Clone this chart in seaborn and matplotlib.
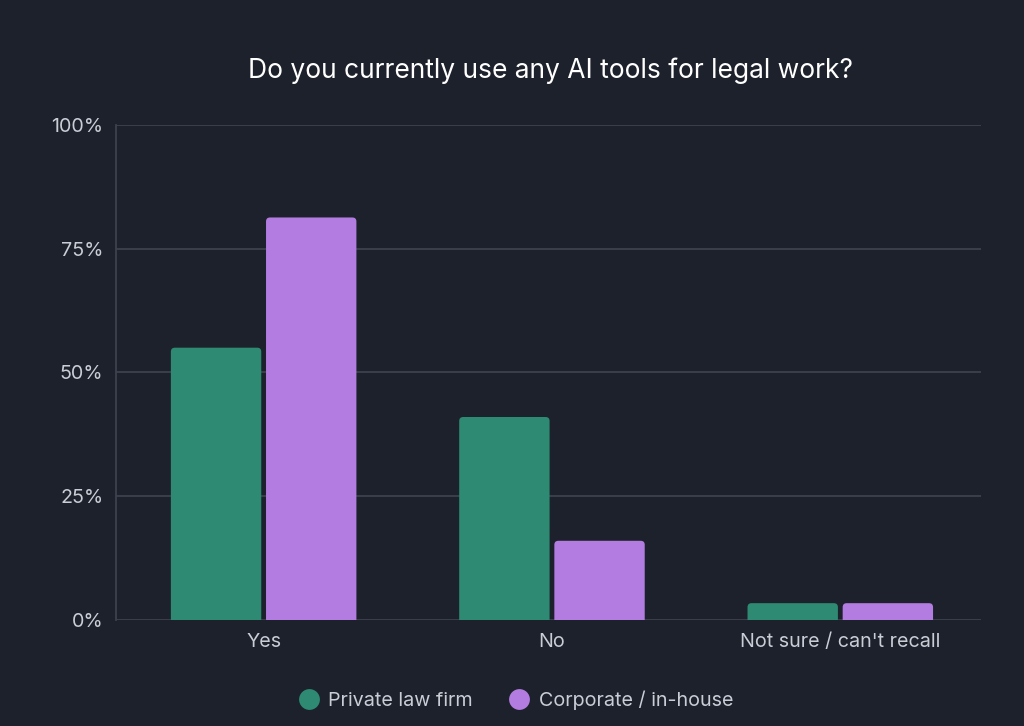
import pandas as pd
import matplotlib.pyplot as plt
import seaborn as sns
from matplotlib.lines import Line2D
from matplotlib.patches import FancyBboxPatch

# survey data (share of respondents)
answers = ['Yes', 'No', "Not sure / can't recall"]
private_firm = [55, 41, 3.4]
corporate = [81.3, 16, 3.4]
series_names = ['Private law firm', 'Corporate / in-house']
y_ticks = [0, 25, 50, 75, 100]

BG = '#1d212b'
GRID = '#3e424e'
TEXT = '#c9cdd5'
colors = ['#2e8a72', '#b27ce0']


def round_bars(ax, radius_px=4):
    # swap the plain rectangles for ones with rounded corners
    fig = ax.figure
    fig.canvas.draw()
    bbox = ax.get_window_extent()
    x0, x1 = ax.get_xlim()
    y0, y1 = ax.get_ylim()
    px_x = bbox.width / (x1 - x0)
    px_y = bbox.height / (y1 - y0)
    r_x = radius_px / px_x
    aspect = px_x / px_y
    for p in list(ax.patches):
        x, w, h = p.get_x(), p.get_width(), p.get_height()
        pad_y = radius_px / px_y
        fb = FancyBboxPatch((x, -pad_y), w, h + pad_y,
                            boxstyle=f'round,pad=0,rounding_size={r_x}',
                            mutation_aspect=aspect,
                            facecolor=p.get_facecolor(), linewidth=0,
                            zorder=p.get_zorder())
        p.remove()
        ax.add_patch(fb)


def main():
    df = pd.DataFrame({
        'answer': answers * 2,
        'share': private_firm + corporate,
        'group': [series_names[0]] * 3 + [series_names[1]] * 3,
    })

    sns.set_style(style='dark', rc={'axes.facecolor': BG, 'figure.facecolor': BG})
    plt.rcParams['font.family'] = ['Inter', 'DejaVu Sans']

    fig = plt.figure(figsize=(10.24, 7.26), dpi=100)
    ax = fig.add_axes([0.1133, 0.146, 0.8447, 0.682])

    sns.barplot(x='answer', y='share', hue='group', data=df, ax=ax,
                palette=colors, width=0.66, gap=0.05, legend=False,
                saturation=1, linewidth=0)

    ax.set_xlim(-0.512, 2.488)
    ax.set_ylim(0, 100)
    ax.set_yticks(y_ticks)
    ax.set_yticklabels([f'{t}%' for t in y_ticks])
    ax.set_xlabel('')
    ax.set_ylabel('')
    ax.grid(axis='y', color=GRID, linewidth=1.3)
    ax.grid(axis='x', visible=False)
    ax.set_axisbelow(True)
    for side in ['top', 'right', 'bottom']:
        ax.spines[side].set_visible(False)
    ax.spines['left'].set_color(GRID)
    ax.spines['left'].set_linewidth(1.3)
    ax.tick_params(axis='both', colors=TEXT, labelsize=14.2, length=0)
    ax.tick_params(axis='y', pad=9)
    ax.tick_params(axis='x', pad=9)

    round_bars(ax)

    fig.text(0.538, 0.903, 'Do you currently use any AI tools for legal work?',
             ha='center', va='center', color='white', fontsize=19)

    handles = [Line2D([], [], marker='o', linestyle='', markersize=15,
                      markerfacecolor=c, markeredgewidth=0) for c in colors]
    fig.legend(handles, series_names, loc='center', bbox_to_anchor=(0.503, 0.035),
               ncol=2, frameon=False, fontsize=14.2, labelcolor=TEXT,
               handlelength=1.2, handletextpad=0.4, columnspacing=1.75)

    fig.savefig('out.png', facecolor=BG)
    plt.close(fig)


if __name__ == '__main__':
    main()
